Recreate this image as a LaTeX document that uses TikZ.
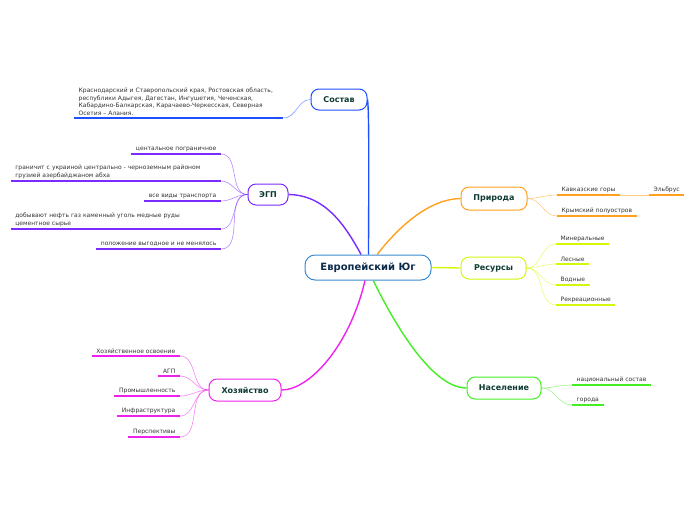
\documentclass[tikz,border=0pt]{standalone}
\usepackage{fontspec}
\setmainfont{DejaVu Sans}
\definecolor{cblue}{HTML}{1F4FFF}
\definecolor{cpurp}{HTML}{7A2BFF}
\definecolor{corange}{HTML}{FFA01E}
\definecolor{cyel}{HTML}{D6F70A}
\definecolor{cgreen}{HTML}{44EE22}
\definecolor{cmag}{HTML}{EE22EE}
\definecolor{ccent}{HTML}{3A8AD0}
\definecolor{ttext}{HTML}{0F3B33}
\definecolor{ctitle}{HTML}{0D2B4A}
\begin{document}
\begin{tikzpicture}[x=1pt,y=-1pt,
  mainbox/.style={draw=#1, rounded corners=8pt, line width=1pt, fill=white,
    font=\bfseries\fontsize{8}{9}\selectfont, text=ttext, inner sep=0pt, minimum height=21pt},
  leaf/.style={font=\fontsize{6}{7.5}\selectfont, text=black!80, inner xsep=4.5pt, inner ysep=2.5pt, align=left,
    append after command={(\tikzlastnode.south west) edge[line width=1.6pt, draw=#1] (\tikzlastnode.south east)}},
  lk/.style={line width=0.6pt, draw=#1, draw opacity=0.55},
  mk/.style={line width=1.4pt, draw=#1}]
\useasboundingbox (0,0) rectangle (696,520);

% central
\node[draw=ccent, rounded corners=10pt, line width=1pt, fill=white, minimum width=126pt, minimum height=25pt,
  inner sep=0pt, font=\bfseries\fontsize{10}{12}\selectfont, text=ctitle] (c) at (368,267.5) {Европейский Юг};

% main nodes
\node[mainbox=cblue, minimum width=56pt] (sos) at (339,99.5) {Состав};
\node[mainbox=cpurp, minimum width=40pt] (egp) at (268,194.5) {ЭГП};
\node[mainbox=corange, minimum width=66pt, minimum height=23pt] (pri) at (494,198.5) {Природа};
\node[mainbox=cyel, minimum width=65pt, minimum height=22pt] (res) at (493.5,268) {Ресурсы};
\node[mainbox=cgreen, minimum width=74pt, minimum height=22pt] (nas) at (504,388) {Население};
\node[mainbox=cmag, minimum width=72pt, minimum height=22pt] (hoz) at (245,390) {Хозяйство};

% main connectors
\begin{scope}[on background layer/.style={}]
\end{scope}
\draw[mk=cblue] (c.88) .. controls (369,160) and (369,110) .. (sos.east);
\draw[mk=cpurp] (c.118) .. controls (345,225) and (325,195) .. (egp.east);
\draw[mk=corange] (c.55) .. controls (400,225) and (430,199) .. (pri.west);
\draw[mk=cyel] (c.east) -- (res.west);
\draw[mk=cgreen] (c.-68) .. controls (400,335) and (435,388) .. (nas.west);
\draw[mk=cmag] (c.-103) .. controls (350,345) and (310,390) .. (hoz.east);

% Состав leaf
\node[leaf=cblue, anchor=south west, text width=200pt] (s1) at (74,118)
  {Краснодарский и Ставропольский края, Ростовская область, республики Адыгея, Дагестан, Ингушетия, Чеченская, Кабардино-Балкарская, Карачаево-Черкесская, Северная Осетия – Алания.};
\draw[lk=cblue] (sos.west) to[out=180,in=0] (s1.south east);

% ЭГП leaves
\node[leaf=cpurp, anchor=south east] (e1) at (221,154) {центальное пограничное};
\node[leaf=cpurp, anchor=south east, text width=201pt] (e2) at (221,181) {граничит с украиной центрально - черноземным районом\\грузией азербайджаном абха};
\node[leaf=cpurp, anchor=south east] (e3) at (221,201) {все виды транспорта};
\node[leaf=cpurp, anchor=south east, text width=201pt] (e4) at (221,229) {добывают нефть газ каменный уголь медные руды\\цементное сырье};
\node[leaf=cpurp, anchor=south east] (e5) at (221,249) {положение выгодное и не менялось};
\foreach \n in {e1,e2,e3,e4,e5}
  \draw[lk=cpurp] (egp.west) to[out=180,in=0] (\n.south east);

% Природа leaves
\node[leaf=corange, anchor=south west] (p1) at (557,195) {Кавказские горы};
\node[leaf=corange, anchor=south west] (p2) at (557,216) {Крымский полуостров};
\node[leaf=corange, anchor=south west] (p3) at (649,195) {Эльбрус};
\draw[lk=corange] (pri.east) to[out=0,in=180] (p1.south west);
\draw[lk=corange] (pri.east) to[out=0,in=180] (p2.south west);
\draw[lk=corange] (p1.south east) -- (p3.south west);

% Ресурсы leaves
\node[leaf=cyel, anchor=south west] (r1) at (556,244) {Минеральные};
\node[leaf=cyel, anchor=south west] (r2) at (556,264) {Лесные};
\node[leaf=cyel, anchor=south west] (r3) at (556,285) {Водные};
\node[leaf=cyel, anchor=south west] (r4) at (556,305) {Рекреационные};
\foreach \n in {r1,r2,r3,r4}
  \draw[lk=cyel] (res.east) to[out=0,in=180] (\n.south west);

% Население leaves
\node[leaf=cgreen, anchor=south west] (n1) at (572,385) {национальный состав};
\node[leaf=cgreen, anchor=south west] (n2) at (572,405) {города};
\foreach \n in {n1,n2}
  \draw[lk=cgreen] (nas.east) to[out=0,in=180] (\n.south west);

% Хозяйство leaves
\node[leaf=cmag, anchor=south east] (h1) at (180,356) {Хозяйственное освоение};
\node[leaf=cmag, anchor=south east] (h2) at (180,376) {АГП};
\node[leaf=cmag, anchor=south east] (h3) at (180,396) {Промышленность};
\node[leaf=cmag, anchor=south east] (h4) at (180,416) {Инфраструктура};
\node[leaf=cmag, anchor=south east] (h5) at (180,437) {Перспективы};
\foreach \n in {h1,h2,h3,h4,h5}
  \draw[lk=cmag] (hoz.west) to[out=180,in=0] (\n.south east);
\end{tikzpicture}
\end{document}
